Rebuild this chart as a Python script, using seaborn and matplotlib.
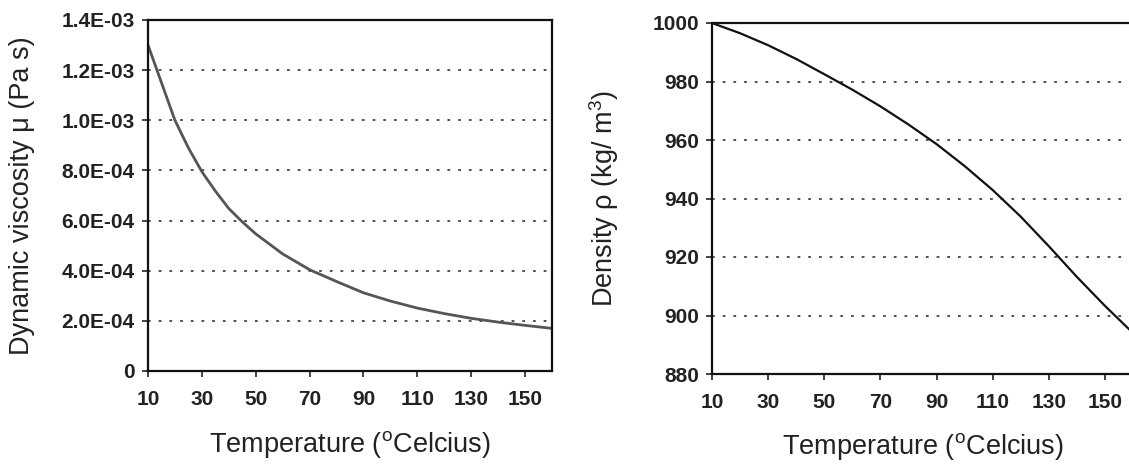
import matplotlib
matplotlib.use("Agg")
import matplotlib.pyplot as plt
import matplotlib.ticker as mticker
import seaborn as sns
import pandas as pd

# values
temp_mu = [10, 15, 20, 25, 30, 35, 40, 45, 50, 60, 70, 80, 90, 100, 110, 120, 130, 140, 150, 160]
mu = [1.30e-3, 1.15e-3, 1.00e-3, 0.89e-3, 0.795e-3, 0.718e-3, 0.648e-3, 0.595e-3,
      0.547e-3, 0.467e-3, 0.404e-3, 0.357e-3, 0.312e-3, 0.279e-3, 0.251e-3,
      0.229e-3, 0.210e-3, 0.195e-3, 0.182e-3, 0.170e-3]

temp_rho = [10, 20, 30, 40, 50, 60, 70, 80, 90, 100, 110, 120, 130, 140, 150, 160]
rho = [1000.0, 996.5, 992.4, 987.7, 982.5, 977.2, 971.5, 965.3, 958.6, 951.1,
       942.9, 933.8, 923.7, 913.2, 903.3, 894.0]

x_ticks = [10, 30, 50, 70, 90, 110, 130, 150]
mu_ticks = [0, 2e-4, 4e-4, 6e-4, 8e-4, 1e-3, 1.2e-3, 1.4e-3]
rho_ticks = [880, 900, 920, 940, 960, 980, 1000]

xlabel = r"Temperature ($^{\mathrm{o}}$Celcius)"
mu_label = "Dynamic viscosity \u03bc (Pa s)"
rho_label = r"Density $\mathrm{\rho}$ (kg/ m$^{3}$)"

df_mu = pd.DataFrame({"T": temp_mu, "mu": mu})
df_rho = pd.DataFrame({"T": temp_rho, "rho": rho})

sns.set_style("ticks")
plt.rcParams["font.family"] = ["Liberation Sans", "DejaVu Sans"]
plt.rcParams["mathtext.fontset"] = "custom"
plt.rcParams["mathtext.rm"] = "Liberation Sans"
plt.rcParams["mathtext.it"] = "Liberation Sans:italic"

fig = plt.figure(figsize=(11.29, 4.66), dpi=100)
ax1 = fig.add_axes([148/1129, 1-371/466, 404/1129, 351/466])
ax2 = fig.add_axes([712/1129, 1-374/466, 421/1129, 351/466])

sns.lineplot(data=df_mu, x="T", y="mu", ax=ax1, color="#555555", lw=2.0)
sns.lineplot(data=df_rho, x="T", y="rho", ax=ax2, color="#111111", lw=1.6)

grid_kw = dict(color="#222222", lw=1.1, ls=(0, (1.8, 5.2)), zorder=0)
for t in mu_ticks[1:-1]:
    ax1.axhline(t, **grid_kw)
for t in rho_ticks[1:-1]:
    ax2.axhline(t, **grid_kw)

ax1.set_xlim(10, 160)
ax1.set_ylim(0, 1.4e-3)
ax1.set_yticks(mu_ticks)
ax1.yaxis.set_major_formatter(mticker.FuncFormatter(lambda v, p: "0" if v == 0 else "{:.1E}".format(v)))
ax2.set_xlim(10, 160)
ax2.set_ylim(880, 1000)
ax2.set_yticks(rho_ticks)

for ax, lab in [(ax1, mu_label), (ax2, rho_label)]:
    ax.set_xticks(x_ticks)
    ax.tick_params(axis="both", direction="out", length=4.5, width=1.2, color="#222222")
    ax.tick_params(axis="x", pad=9)
    ax.tick_params(axis="y", pad=5)
    for t in ax.get_xticklabels() + ax.get_yticklabels():
        t.set_fontweight("bold")
        t.set_fontsize(15)
        t.set_color("#222222")
    for s in ax.spines.values():
        s.set_color("#111111")
        s.set_linewidth(1.6)
    ax.set_xlabel(xlabel, fontsize=19.5, color="#222222")
    ax.set_ylabel(lab, fontsize=19.5, color="#222222")
    ax.xaxis.label.set_verticalalignment("center")
    ax.yaxis.label.set_verticalalignment("center")

ax1.xaxis.set_label_coords(0.5, -73/351)
ax1.yaxis.set_label_coords(-126/404, 0.5)
ax2.xaxis.set_label_coords(0.5, -73/351)
ax2.yaxis.set_label_coords(-108/421, 0.5)

fig.savefig("out.png", dpi=100)
